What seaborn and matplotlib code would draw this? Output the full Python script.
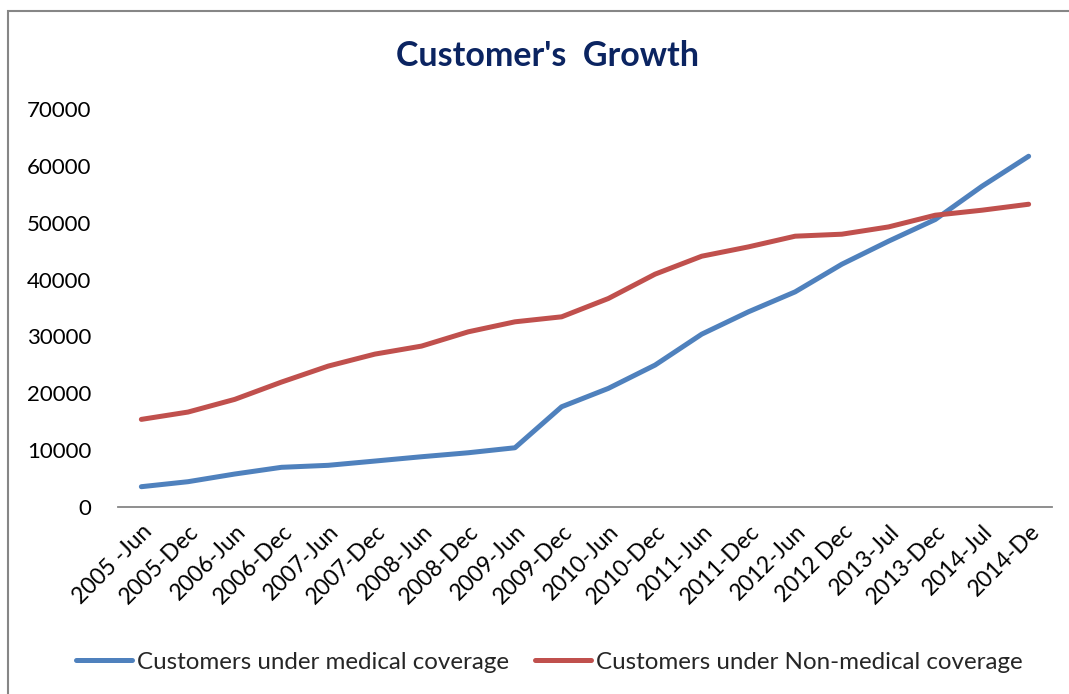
import matplotlib
matplotlib.use("Agg")
import matplotlib.pyplot as plt
import matplotlib.patches as mpatches
import seaborn as sns
import pandas as pd

categories = ["2005 -Jun", "2005-Dec", "2006-Jun", "2006-Dec", "2007-Jun", "2007-Dec",
              "2008-Jun", "2008-Dec", "2009-Jun", "2009-Dec", "2010-Jun", "2010-Dec",
              "2011-Jun", "2011-Dec", "2012-Jun", "2012 Dec", "2013-Jul", "2013-Dec",
              "2014-Jul", "2014-De"]
medical = [3570, 4450, 5800, 6980, 7330, 8080, 8840, 9540, 10420, 17630,
           20860, 24960, 30400, 34330, 37840, 42700, 46750, 50560, 56410, 61690]
non_medical = [15410, 16700, 18930, 21970, 24780, 26890, 28300, 30810, 32570, 33450,
               36670, 40950, 44110, 45750, 47630, 47980, 49260, 51320, 52200, 53250]
series_names = ["Customers under medical coverage", "Customers under Non-medical coverage"]
y_ticks = [0, 10000, 20000, 30000, 40000, 50000, 60000, 70000]

df = pd.DataFrame({
    "period": categories * 2,
    "customers": medical + non_medical,
    "series": [series_names[0]] * len(categories) + [series_names[1]] * len(categories),
})

sns.set_theme(style="white")
plt.rcParams["font.family"] = ["Lato", "DejaVu Sans"]

fig = plt.figure(figsize=(10.69, 6.94), dpi=100)
ax = fig.add_axes([118 / 1069, 1 - 507 / 694, (1052 - 118) / 1069, (507 - 109) / 694])

palette = {series_names[0]: "#4F81BD", series_names[1]: "#C0504D"}
sns.lineplot(data=df, x="period", y="customers", hue="series", palette=palette,
             linewidth=3.6, sort=False, ax=ax, solid_capstyle="round")

ax.set_xlim(-0.5, len(categories) - 0.5)
ax.set_ylim(0, 70000)
ax.set_yticks(y_ticks)
ax.set_yticklabels([str(v) for v in y_ticks], fontsize=16, color="black")
ax.set_xticks(range(len(categories)))
ax.set_xticklabels(categories, rotation=45, ha="right", va="top",
                   rotation_mode="anchor", fontsize=16.5, color="black")
ax.tick_params(axis="y", length=0, pad=19)
ax.tick_params(axis="x", length=0, pad=10)
ax.set_xlabel("")
ax.set_ylabel("")
for s in ["left", "right", "top"]:
    ax.spines[s].set_visible(False)
ax.spines["bottom"].set_color("#868686")
ax.spines["bottom"].set_linewidth(1.3)
ax.grid(False)

handles, labels = ax.get_legend_handles_labels()
ax.legend(handles, labels, loc="center", bbox_to_anchor=(0.514, 0.046),
          bbox_transform=fig.transFigure, ncol=2, frameon=False, fontsize=17.4,
          handlelength=2.3, handletextpad=0.2, columnspacing=1.1)

fig.text(0.512, 0.919, "Customer's  Growth", ha="center", va="center",
         fontsize=24.5, fontweight="bold", color="#0B2461")

frame = mpatches.Rectangle((8 / 1069, -0.2), 1.2, 1.2 - 11 / 694, transform=fig.transFigure,
                           fill=False, edgecolor="#868686", linewidth=1.5)
fig.patches.append(frame)

fig.savefig("out.png", dpi=100, facecolor="white")
